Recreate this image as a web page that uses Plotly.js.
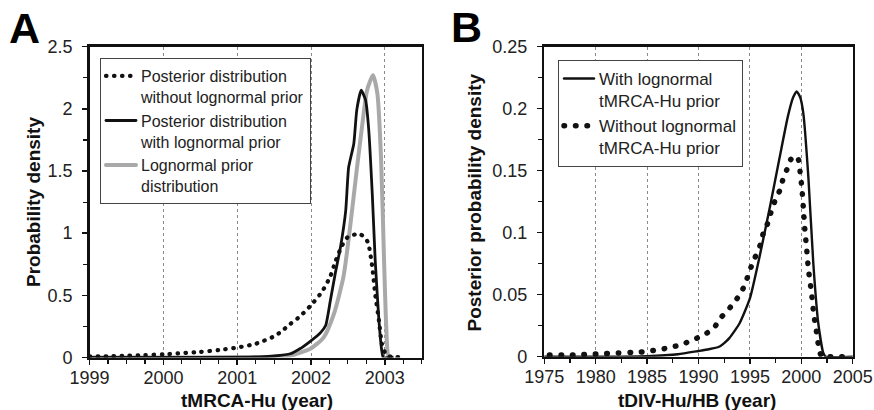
<!DOCTYPE html>
<html>
<head>
<meta charset="utf-8">
<script src="https://cdn.plot.ly/plotly-3.0.1.min.js"></script>
<style>
  html, body { margin: 0; padding: 0; background: #fff; }
  #chart { width: 874px; height: 410px; }
  .js-line { stroke-linecap: round; stroke-linejoin: round; }
</style>
</head>
<body>
<div id="chart"></div>
<script>
// ---- Panel A: tMRCA-Hu ----
const yearsA_noPrior = [1999, 1999.25, 1999.5, 1999.75, 2000, 2000.25, 2000.5, 2000.75, 2001, 2001.25, 2001.5, 2001.6, 2001.72, 2001.85, 2002.0, 2002.15, 2002.26, 2002.33, 2002.42, 2002.5, 2002.6, 2002.67, 2002.74, 2002.78, 2002.83, 2002.87, 2002.92, 2002.96, 2003.01, 2003.05, 2003.1, 2003.2];
const densA_noPrior  = [0.01, 0.01, 0.015, 0.02, 0.025, 0.035, 0.045, 0.06, 0.08, 0.11, 0.17, 0.21, 0.27, 0.33, 0.42, 0.53, 0.65, 0.77, 0.90, 0.97, 0.99, 0.99, 0.96, 0.91, 0.73, 0.51, 0.30, 0.11, 0.03, 0.01, 0.005, 0.002];

const yearsA_withPrior = [1999, 2000, 2001, 2001.3, 2001.5, 2001.72, 2001.85, 2001.99, 2002.13, 2002.2, 2002.26, 2002.33, 2002.40, 2002.47, 2002.51, 2002.58, 2002.62, 2002.68, 2002.74, 2002.78, 2002.83, 2002.87, 2002.92, 2002.96, 2002.98, 2003.1];
const densA_withPrior  = [0, 0, 0.002, 0.005, 0.012, 0.03, 0.07, 0.13, 0.2, 0.26, 0.45, 0.68, 0.89, 1.18, 1.53, 1.72, 1.99, 2.15, 2.07, 1.85, 1.32, 0.78, 0.30, 0.05, 0.0, 0];

const yearsA_prior = [1999, 2000, 2001, 2001.5, 2001.72, 2001.99, 2002.17, 2002.31, 2002.44, 2002.53, 2002.62, 2002.69, 2002.76, 2002.84, 2002.90, 2002.95, 2002.99, 2003.02, 2003.05, 2003.1];
const densA_prior  = [0, 0, 0, 0.005, 0.015, 0.07, 0.16, 0.35, 0.65, 1.05, 1.51, 1.85, 2.15, 2.27, 2.12, 1.59, 0.78, 0.24, 0.01, 0];

// ---- Panel B: tDIV-Hu/HB ----
const yearsB_with = [1975, 1980, 1985, 1988, 1990, 1991, 1992, 1992.5, 1993, 1994, 1995, 1996, 1996.95, 1997.9, 1998.7, 1999.2, 1999.55, 1999.9, 2000.2, 2000.7, 2001.17, 2001.65, 2002.14, 2002.4, 2005];
const densB_with  = [0, 0, 0.0005, 0.002, 0.0046, 0.006, 0.008, 0.011, 0.015, 0.027, 0.047, 0.083, 0.121, 0.161, 0.194, 0.209, 0.214, 0.209, 0.196, 0.143, 0.075, 0.027, 0.003, 0, 0];

const yearsB_without = [1975.5, 1977, 1978.3, 1979.6, 1980.9, 1982.2, 1983.5, 1984.7, 1985.9, 1987.2, 1988.4, 1989.6, 1990.8, 1991.5, 1992.1, 1992.6, 1993.3, 1994.1, 1994.6, 1995.0, 1995.5, 1996.0, 1996.3, 1996.8, 1997.1, 1997.45, 1997.9, 1998.25, 1998.6, 1998.97, 1999.3, 1999.55, 1999.8, 1999.9, 2000.05, 2000.2, 2000.36, 2000.5, 2000.7, 2001.0, 2001.2, 2001.5, 2001.75, 2002.0, 2003, 2004, 2005];
const densB_without  = [0.0013, 0.0013, 0.0015, 0.002, 0.0025, 0.003, 0.0035, 0.004, 0.0054, 0.0073, 0.010, 0.014, 0.019, 0.023, 0.031, 0.035, 0.042, 0.051, 0.060, 0.070, 0.080, 0.090, 0.0995, 0.109, 0.118, 0.126, 0.134, 0.144, 0.151, 0.159, 0.161, 0.162, 0.157, 0.147, 0.137, 0.120, 0.101, 0.089, 0.070, 0.051, 0.035, 0.019, 0.005, 0.0, 0, 0, 0];

// ---- Labels ----
const legendA = ["Posterior distribution<br>without lognormal prior", "Posterior distribution<br>with lognormal prior", "Lognormal prior<br>distribution"];
const legendB = ["With lognormal<br>tMRCA-Hu prior", "Without lognormal<br>tMRCA-Hu prior"];
const xTitleA = "tMRCA-Hu (year)";
const yTitleA = "Probability density";
const xTitleB = "tDIV-Hu/HB (year)";
const yTitleB = "Posterior probability density";
const panelLabels = ["A", "B"];

const FONT = "Liberation Sans, Arial, Helvetica, sans-serif";
const DOTS_A = "0.5px,7.5px";
const DOTS_B = "0.5px,11px";

const traces = [
  { x: yearsA_prior, y: densA_prior, name: legendA[2], type: 'scatter', mode: 'lines',
    line: { color: '#a9a9a9', width: 4, shape: 'spline', smoothing: 0.6 }, xaxis: 'x', yaxis: 'y', legend: 'legend', legendrank: 3 },
  { x: yearsA_withPrior, y: densA_withPrior, name: legendA[1], type: 'scatter', mode: 'lines',
    line: { color: '#111', width: 2.8, shape: 'spline', smoothing: 0.5 }, xaxis: 'x', yaxis: 'y', legend: 'legend', legendrank: 2 },
  { x: yearsA_noPrior, y: densA_noPrior, name: legendA[0], type: 'scatter', mode: 'lines',
    line: { color: '#111', width: 4.2, dash: DOTS_A, shape: 'spline', smoothing: 0.5 }, xaxis: 'x', yaxis: 'y', legend: 'legend', legendrank: 1 },
  { x: yearsB_with, y: densB_with, name: legendB[0], type: 'scatter', mode: 'lines',
    line: { color: '#111', width: 2.4, shape: 'spline', smoothing: 0.5 }, xaxis: 'x2', yaxis: 'y2', legend: 'legend2', legendrank: 1 },
  { x: yearsB_without, y: densB_without, name: legendB[1], type: 'scatter', mode: 'lines',
    line: { color: '#111', width: 5.5, dash: DOTS_B, shape: 'spline', smoothing: 0.5 }, xaxis: 'x2', yaxis: 'y2', legend: 'legend2', legendrank: 2 }
];

const W = 874, H = 410;
const px = v => v / W;
const py = v => 1 - v / H;

function axisCommon() {
  return {
    showline: true, mirror: true, linecolor: '#111', linewidth: 2.5,
    ticks: 'outside', ticklen: 5, tickwidth: 1.5, tickcolor: '#111',
    tickfont: { family: FONT, size: 18, color: '#222' },
    zeroline: false, fixedrange: true
  };
}

const layout = {
  width: W, height: H,
  margin: { l: 0, r: 0, t: 0, b: 0 },
  paper_bgcolor: '#fff', plot_bgcolor: '#fff',
  font: { family: FONT, color: '#111' },
  xaxis: Object.assign(axisCommon(), {
    domain: [px(89.6), px(421.7)], anchor: 'y', range: [1999, 2003.5],
    tick0: 1999, dtick: 1, showgrid: true, gridcolor: '#8a8a8a', gridwidth: 1, griddash: 'dot',
    ticklabelstandoff: -3,
    minor: { dtick: 0.25, tick0: 1999, ticks: 'outside', ticklen: 4, tickwidth: 1.2, tickcolor: '#111', showgrid: false }
  }),
  yaxis: Object.assign(axisCommon(), {
    domain: [1 - 357.5 / H, 1 - 46.7 / H], anchor: 'x', range: [0, 2.5],
    tick0: 0, dtick: 0.5, showgrid: false, ticklabelstandoff: 6,
    minor: { dtick: 0.25, ticks: 'outside', ticklen: 4, tickwidth: 1.2, tickcolor: '#111', showgrid: false }
  }),
  xaxis2: Object.assign(axisCommon(), {
    domain: [px(544.3), px(852.7)], anchor: 'y2', range: [1975, 2005],
    tick0: 1975, dtick: 5, showgrid: true, gridcolor: '#8a8a8a', gridwidth: 1, griddash: 'dot',
    ticklabelstandoff: -3,
    minor: { dtick: 2.5, tick0: 1975, ticks: 'outside', ticklen: 4, tickwidth: 1.2, tickcolor: '#111', showgrid: false }
  }),
  yaxis2: Object.assign(axisCommon(), {
    domain: [1 - 356.7 / H, 1 - 46.7 / H], anchor: 'x2', range: [0, 0.25],
    tick0: 0, dtick: 0.05, showgrid: false, ticklabelstandoff: 6,
    minor: { dtick: 0.025, ticks: 'outside', ticklen: 4, tickwidth: 1.2, tickcolor: '#111', showgrid: false }
  }),
  legend: {
    x: px(100), y: py(58), xanchor: 'left', yanchor: 'top', xref: 'paper', yref: 'paper',
    bgcolor: '#fff', bordercolor: '#444', borderwidth: 1, valign: 'top',
    font: { family: FONT, size: 16, color: '#222' }, tracegroupgap: 0
  },
  legend2: {
    x: px(558), y: py(60), xanchor: 'left', yanchor: 'top', xref: 'paper', yref: 'paper',
    bgcolor: '#fff', bordercolor: '#444', borderwidth: 1, valign: 'top',
    font: { family: FONT, size: 17, color: '#222' }, tracegroupgap: 0
  },
  showlegend: true,
  annotations: [
    { text: panelLabels[0], xref: 'paper', yref: 'paper', x: px(7), y: py(28), xanchor: 'left', yanchor: 'middle',
      showarrow: false, font: { family: FONT, size: 43, color: '#000', weight: 'bold' } },
    { text: panelLabels[1], xref: 'paper', yref: 'paper', x: px(449), y: py(27), xanchor: 'left', yanchor: 'middle',
      showarrow: false, font: { family: FONT, size: 43, color: '#000', weight: 'bold' } },
    { text: '<b>' + xTitleA + '</b>', xref: 'paper', yref: 'paper', x: px(257), y: py(400), xanchor: 'center', yanchor: 'middle',
      showarrow: false, font: { family: FONT, size: 19, color: '#111' } },
    { text: '<b>' + yTitleA + '</b>', xref: 'paper', yref: 'paper', x: px(33), y: py(202), xanchor: 'center', yanchor: 'middle',
      textangle: -90, showarrow: false, font: { family: FONT, size: 19, color: '#111' } },
    { text: '<b>' + xTitleB + '</b>', xref: 'paper', yref: 'paper', x: px(697), y: py(400), xanchor: 'center', yanchor: 'middle',
      showarrow: false, font: { family: FONT, size: 19, color: '#111' } },
    { text: '<b>' + yTitleB + '</b>', xref: 'paper', yref: 'paper', x: px(473.5), y: py(203), xanchor: 'center', yanchor: 'middle',
      textangle: -90, showarrow: false, font: { family: FONT, size: 19, color: '#111' } }
  ]
};

Plotly.newPlot('chart', traces, layout, { staticPlot: true, displayModeBar: false });
</script>
</body>
</html>
